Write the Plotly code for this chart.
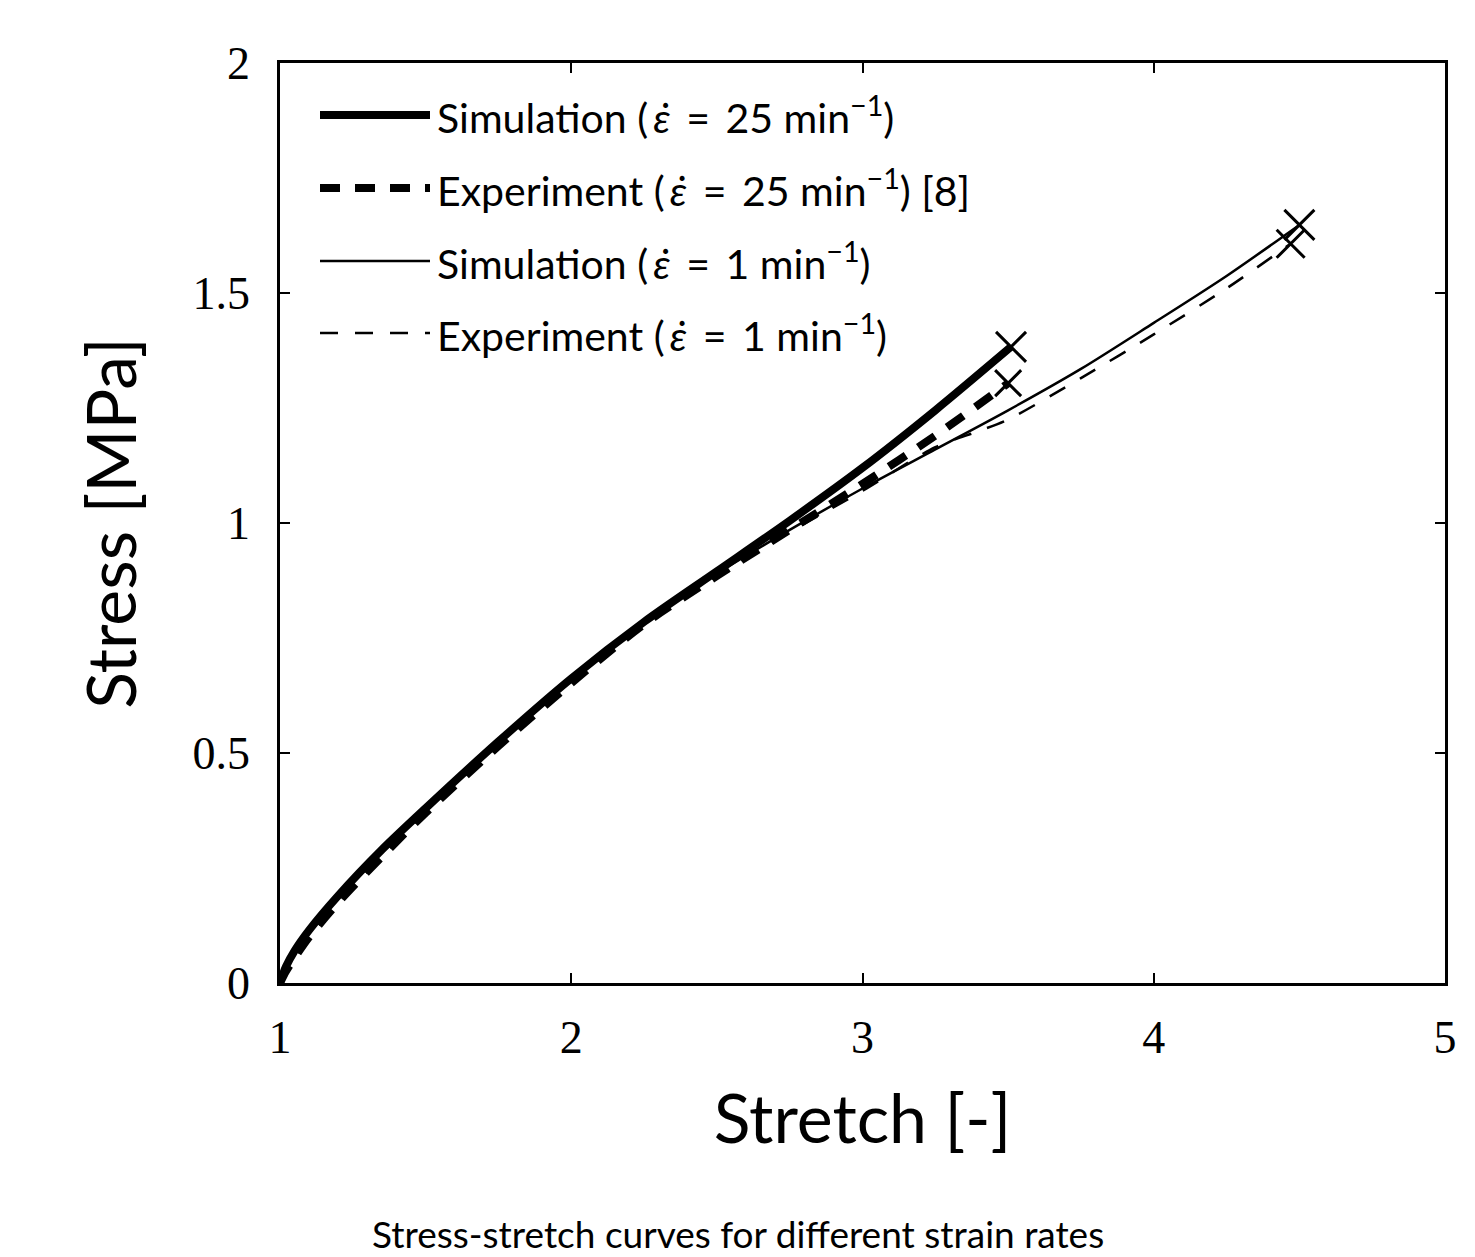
import plotly.graph_objects as go

# ---- data ----
sim25_x = [1.0, 1.02, 1.05, 1.1, 1.2, 1.35, 1.5, 1.75, 2.0, 2.25, 2.5, 2.75, 3.0, 3.25, 3.51]
sim25_y = [0.0, 0.035, 0.07, 0.115, 0.19, 0.29, 0.38, 0.525, 0.662, 0.785, 0.895, 1.005, 1.12, 1.245, 1.383]

exp25_x = [1.0, 1.02, 1.05, 1.1, 1.2, 1.35, 1.5, 1.75, 2.0, 2.25, 2.5, 2.75, 3.0, 3.25, 3.5]
exp25_y = [0.0, 0.025, 0.055, 0.10, 0.175, 0.275, 0.37, 0.515, 0.652, 0.78, 0.885, 0.985, 1.085, 1.19, 1.304]

sim1_x = [1.0, 1.02, 1.05, 1.1, 1.2, 1.35, 1.5, 1.75, 2.0, 2.25, 2.5, 2.75, 3.0, 3.25, 3.5, 3.75, 4.0, 4.25, 4.5]
sim1_y = [0.0, 0.035, 0.07, 0.115, 0.19, 0.29, 0.38, 0.525, 0.662, 0.785, 0.89, 0.985, 1.075, 1.16, 1.245, 1.335, 1.435, 1.537, 1.648]

exp1_x = [1.0, 1.02, 1.05, 1.1, 1.2, 1.35, 1.5, 1.75, 2.0, 2.25, 2.5, 2.75, 3.0, 3.25, 3.4, 3.5, 3.75, 4.0, 4.25, 4.47]
exp1_y = [0.0, 0.025, 0.055, 0.10, 0.175, 0.275, 0.37, 0.515, 0.652, 0.78, 0.885, 0.98, 1.07, 1.165, 1.2, 1.225, 1.315, 1.41, 1.51, 1.607]

x_ticks = [1, 2, 3, 4, 5]
y_ticks = [0, 0.5, 1, 1.5, 2]
y_tick_labels = ["0", "0.5", "1", "1.5", "2"]

SP = "\u2009"
legend_labels = [
    f"Simulation ({SP}<i>ε̇</i>{SP} = {SP}25 min<sup>−1</sup>)",
    f"Experiment ({SP}<i>ε̇</i>{SP} = {SP}25 min<sup>−1</sup>) [8]",
    f"Simulation ({SP}<i>ε̇</i>{SP} = {SP}1 min<sup>−1</sup>)",
    f"Experiment ({SP}<i>ε̇</i>{SP} = {SP}1 min<sup>−1</sup>)",
]

styles = [
    dict(width=8, dash="solid"),
    dict(width=8, dash="20px,15px"),
    dict(width=2.5, dash="solid"),
    dict(width=2.5, dash="18px,17px"),
]
marker_sizes = [30, 26, 30, 28]

series = [(sim25_x, sim25_y), (exp25_x, exp25_y), (sim1_x, sim1_y), (exp1_x, exp1_y)]

fig = go.Figure()
for (xs, ys), st in zip(series, styles):
    fig.add_trace(go.Scatter(x=xs, y=ys, mode="lines", showlegend=False,
                             line=dict(color="black", width=st["width"], dash=st["dash"],
                                       shape="spline", smoothing=0.8)))
for (xs, ys), ms in zip(series, marker_sizes):
    fig.add_trace(go.Scatter(x=[xs[-1]], y=[ys[-1]], mode="markers", showlegend=False,
                             marker=dict(symbol="x-thin", size=ms, color="black",
                                         line=dict(color="black", width=3))))

# manual legend (no box)
L, R, T, B = 280, 1445, 63, 983
W, H = R - L, B - T
row_px = [115, 188, 261, 333]
for lab, st, ry in zip(legend_labels, styles, row_px):
    yp = (B - ry) / H
    fig.add_shape(type="line", xref="paper", yref="paper",
                  x0=(320 - L) / W, x1=(430 - L) / W, y0=yp, y1=yp,
                  line=dict(color="black", width=st["width"], dash=st["dash"]))
    fig.add_annotation(xref="paper", yref="paper", x=(435 - L) / W, y=yp,
                       xanchor="left", yanchor="middle", showarrow=False, text=lab,
                       font=dict(family="Lato", size=41, color="black"))

fig.add_annotation(xref="paper", yref="paper", x=(738 - L) / W, y=(B - 1233) / H,
                   xanchor="center", yanchor="middle", showarrow=False,
                   text="Stress-stretch curves for different strain rates",
                   font=dict(family="Lato", size=37, color="black"))

axis_common = dict(showline=True, linecolor="black", linewidth=2.5, mirror="allticks",
                   ticks="inside", ticklen=10, tickwidth=2, tickcolor="black",
                   showgrid=False, zeroline=False,
                   tickfont=dict(family="Liberation Serif", size=46, color="black"))

fig.update_xaxes(range=[1, 5], tickvals=x_ticks, ticktext=[str(v) for v in x_ticks],
                 title=dict(text="Stretch [-]", font=dict(family="Lato", size=68, color="black"),
                            standoff=34),
                 ticklabelstandoff=12, **axis_common)
fig.update_yaxes(range=[0, 2], tickvals=y_ticks, ticktext=y_tick_labels,
                 title=dict(text="Stress [MPa]", font=dict(family="Lato", size=68, color="black"),
                            standoff=34),
                 ticklabelstandoff=18, **axis_common)

fig.update_layout(width=1475, height=1257, plot_bgcolor="white", paper_bgcolor="white",
                  margin=dict(l=L, r=1475 - R, t=T, b=1257 - B))

fig.write_html("out.html")
